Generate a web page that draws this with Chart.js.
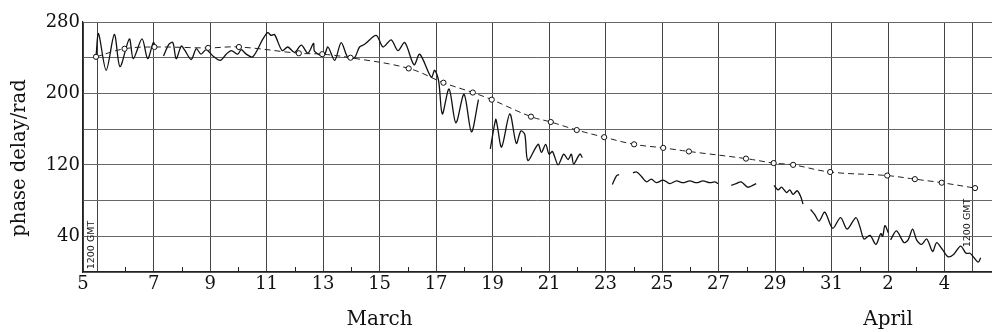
<!DOCTYPE html>
<html lang="en">

<head>
    <meta charset="UTF-8">
    <meta name="viewport" content="width=device-width, initial-scale=1.0">
    <script src="https://cdn.jsdelivr.net/npm/chart.js"></script>
    <title>phase delay</title>

    <style>
        body {
            margin: 0;
            background: #fff;
        }

        .grafico_sty {
            width: 992px;
            height: 332px;
        }
    </style>
</head>

<body>

    <div class="grafico_sty">
        <canvas id="grafico_fase"></canvas>
    </div>

    <script>

        // dashed reference curve (open circles), days counted from 1 March
        const trendDays = [4.96, 5.97, 7.03, 8.93, 10.02, 12.14, 12.97, 13.97, 16.03, 17.26, 18.30, 18.97, 20.36,
            21.06, 21.98, 22.95, 24.01, 25.04, 25.95, 27.97, 28.95, 29.64, 30.95, 32.97, 33.95, 34.90, 36.08];
        const trendPhase = [241, 250, 252, 251, 252, 245, 244, 240, 228, 212, 201, 193, 174,
            168, 159, 151, 143, 139, 135, 127, 122, 120, 112, 108, 104, 100, 94];

        // measured trace, null = break in the record
        const traceDays = [
            4.96, 5.05, 5.32, 5.61, 5.81, 6.14, 6.28, 6.59, 6.79, 6.99, 7.06,
            7.2,
            7.35, 7.54, 7.68, 7.80, 7.98, 8.09, 8.33, 8.51, 8.68, 8.86, 9.10, 9.36, 9.57, 9.75, 9.98, 10.10,
            10.28, 10.51, 10.87, 11.04, 11.16, 11.28, 11.55, 11.75, 11.99, 12.23, 12.46, 12.66, 12.70, 13.02,
            13.17, 13.41, 13.64, 13.88, 14.11, 14.29, 14.47, 14.88, 15.12, 15.41, 15.65, 15.89, 16.22, 16.42,
            16.83, 16.95, 17.09, 17.22, 17.46, 17.70, 17.99, 18.25, 18.50,
            18.7,
            18.92, 19.11, 19.16, 19.32, 19.61, 19.84, 20.00, 20.14, 20.25, 20.61, 20.73, 20.88, 21.00, 21.12,
            21.32, 21.52, 21.67, 21.79, 21.87, 22.09, 22.18,
            22.7,
            23.24, 23.39, 23.48,
            23.7,
            23.97, 24.10, 24.27, 24.45, 24.62, 24.80, 25.04, 25.27, 25.51, 25.74, 25.98, 26.22, 26.45, 26.69,
            26.87, 26.98,
            27.2,
            27.45, 27.62, 27.80, 28.03, 28.21, 28.33,
            28.6,
            28.96, 29.11, 29.23, 29.41, 29.52, 29.64, 29.78, 29.90, 29.99,
            30.1,
            30.26, 30.41, 30.56, 30.76, 31.04, 31.32, 31.55, 31.86, 32.00, 32.15, 32.36, 32.57, 32.74, 32.81,
            32.89, 33.01,
            33.05,
            33.09, 33.30, 33.56, 33.71, 33.87, 34.01, 34.19, 34.37, 34.58, 34.72, 34.93, 35.13, 35.33, 35.57,
            35.76, 35.90, 36.02, 36.19, 36.28
        ];
        const tracePhase = [
            241, 267, 226, 266, 230, 261, 239, 261, 239, 257, 253,
            null,
            242, 255, 257, 239, 253, 249, 238, 250, 244, 249, 242, 237, 244, 248, 244, 249,
            244, 241, 261, 268, 265, 266, 248, 252, 246, 254, 245, 256, 247, 242,
            252, 237, 257, 240, 240, 252, 255, 265, 252, 260, 248, 257, 232, 244,
            218, 226, 214, 177, 205, 167, 199, 157, 193,
            null,
            138, 171, 165, 140, 177, 144, 158, 154, 125, 143, 134, 143, 132, 135,
            120, 132, 126, 132, 121, 132, 128,
            null,
            98, 108, 109,
            null,
            111, 112, 107, 101, 104, 100, 103, 99, 102, 100, 102, 100, 102, 100,
            101, 99,
            null,
            97, 99, 101, 95, 97, 99,
            null,
            97, 92, 95, 89, 92, 87, 91, 85, 76,
            null,
            70, 64, 57, 67, 49, 61, 48, 61, 51, 37, 41, 31, 43, 40,
            52, 44,
            null,
            36, 46, 33, 36, 48, 36, 31, 37, 23, 33, 25, 17, 20, 29,
            21, 21, 17, 11, 16
        ];

        // axis ticks: 4.5 is the start of 5 March, gridlines sit on 1200 GMT
        const xTickValues = [4.5, 5, 7, 9, 11, 13, 15, 17, 19, 21, 23, 25, 27, 29, 31, 33, 35, 36];
        const xTickLabels = ['5', '', '7', '9', '11', '13', '15', '17', '19', '21', '23', '25', '27', '29', '31', '2', '4', ''];
        const minorTickDays = [6, 8, 10, 12, 14, 16, 18, 20, 22, 24, 26, 28, 30, 32, 34];
        const yTickLabels = [40, 120, 200, 280];
        const monthNames = ['March', 'April'];
        const monthDays = [15, 33];
        const gmtDays = [5, 36];

        const serif = '"DejaVu Serif", "Liberation Serif", serif';

        const extras = {
            id: 'extras',
            afterDraw(chart) {
                const { ctx, chartArea } = chart;
                const x = chart.scales.x;
                ctx.save();

                // small inward ticks on even days
                ctx.strokeStyle = '#222';
                ctx.lineWidth = 1;
                minorTickDays.forEach(d => {
                    const px = Math.round(x.getPixelForValue(d)) + 0.5;
                    ctx.beginPath();
                    ctx.moveTo(px, chartArea.bottom);
                    ctx.lineTo(px, chartArea.bottom - 5);
                    ctx.stroke();
                });

                // "1200 GMT" marks next to the gridlines
                ctx.fillStyle = '#111';
                ctx.font = '9.5px "DejaVu Sans", sans-serif';
                ctx.textAlign = 'center';
                ctx.textBaseline = 'middle';
                const gmtY = [245, 223];
                gmtDays.forEach((d, i) => {
                    ctx.save();
                    ctx.translate(x.getPixelForValue(d) - 5.5, gmtY[i]);
                    ctx.rotate(-Math.PI / 2);
                    ctx.fillText('1200 GMT', 0, 0);
                    ctx.restore();
                });

                // month names under the day numbers
                ctx.font = '20px ' + serif;
                monthNames.forEach((m, i) => {
                    ctx.fillText(m, x.getPixelForValue(monthDays[i]), chartArea.bottom + 48);
                });

                // y title
                ctx.font = '19.5px ' + serif;
                ctx.save();
                ctx.translate(20, 158);
                ctx.rotate(-Math.PI / 2);
                ctx.fillText('phase delay/rad', 0, 0);
                ctx.restore();

                ctx.restore();
            }
        };

        const ctx = document.getElementById('grafico_fase');

        const grafico = new Chart(ctx, {
            type: 'line',
            data: {
                datasets: [
                    {
                        label: 'reference',
                        data: trendDays.map((d, i) => ({ x: d, y: trendPhase[i] })),
                        borderColor: '#222',
                        borderWidth: 1,
                        borderDash: [6, 4],
                        tension: 0.4,
                        pointRadius: 2.6,
                        pointBackgroundColor: '#fff',
                        pointBorderColor: '#111',
                        pointBorderWidth: 1,
                        order: 0
                    },
                    {
                        label: 'phase delay',
                        data: traceDays.map((d, i) => ({ x: d, y: tracePhase[i] })),
                        borderColor: '#111',
                        borderWidth: 1.3,
                        tension: 0.3,
                        pointRadius: 0,
                        spanGaps: false,
                        order: 1
                    }
                ]
            },
            options: {
                responsive: true,
                maintainAspectRatio: false,
                animation: false,
                layout: { autoPadding: false, padding: { top: 22, right: 0, left: 0, bottom: 0 } },
                plugins: {
                    legend: { display: false },
                    tooltip: { enabled: false }
                },
                scales: {
                    x: {
                        type: 'linear',
                        min: 4.5,
                        max: 36.68,
                        afterBuildTicks: s => { s.ticks = xTickValues.map(v => ({ value: v })); },
                        afterFit: s => {
                            s.height = 60;
                            s.paddingLeft = 0;
                            s.paddingRight = 0;
                        },
                        ticks: {
                            autoSkip: false,
                            maxRotation: 0,
                            padding: 2,
                            color: '#111',
                            font: { family: serif, size: 18 },
                            callback: v => xTickLabels[xTickValues.indexOf(v)]
                        },
                        grid: { color: '#444', lineWidth: 1, drawTicks: false },
                        border: { color: '#222', width: 1.2 }
                    },
                    y: {
                        min: 0,
                        max: 280,
                        afterFit: s => { s.width = 83; },
                        ticks: {
                            stepSize: 40,
                            padding: 3,
                            color: '#111',
                            font: { family: serif, size: 18 },
                            callback: v => yTickLabels.includes(v) ? String(v) : ''
                        },
                        grid: { color: '#666', lineWidth: 1, drawTicks: false },
                        border: { color: '#222', width: 1.2 }
                    }
                }
            },
            plugins: [extras]
        });

    </script>

</body>

</html>
